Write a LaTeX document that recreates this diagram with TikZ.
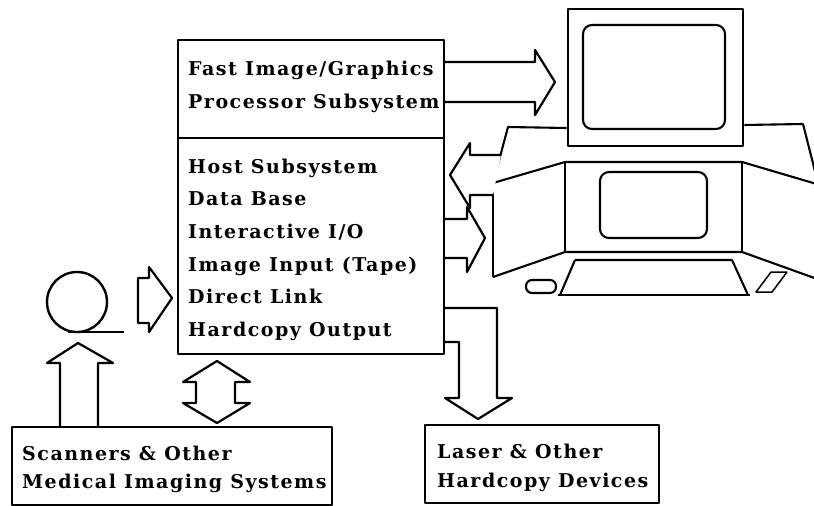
\documentclass[tikz,border=0pt]{standalone}
\usepackage{fontspec}
\newfontfamily\labelfont{DejaVu Serif}[LetterSpace=8]
\begin{document}
\begin{tikzpicture}[x=1pt,y=-1pt,
    line join=round,
    outline/.style={draw=black, line width=2.2pt},
    box/.style={outline, rectangle, inner sep=0pt},
    lbl/.style={inner sep=0pt, anchor=base west, font=\labelfont\bfseries\fontsize{19}{22}\selectfont},
    hollow/.style={outline, fill=white},
    sketch/.style={draw=black, line width=2.1pt},
    thick sketch/.style={draw=black, line width=2.8pt}]
  \useasboundingbox (0,0) rectangle (814,506);
  \clip (0,0) rectangle (814,506);

  % --- boxes -------------------------------------------------------------
  \node[box, minimum width=266pt, minimum height=314pt] (host) at (311,197) {};
  \draw[outline] (host.west |- 0,138) -- (host.east |- 0,138);
  \node[box, minimum width=320pt, minimum height=78pt] (scan) at (172,466) {};
  \node[box, minimum width=234pt, minimum height=78pt] (laser) at (542,464) {};

  % --- texts -------------------------------------------------------------
  \node[lbl] (fast)  at (188,75)  {Fast Image/Graphics};
  \node[lbl] (proc)  at (188,108) {Processor Subsystem};
  \node[lbl] (hs)    at (188,173) {Host Subsystem};
  \node[lbl] (db)    at (188,205) {Data Base};
  \node[lbl] (io)    at (188,238) {Interactive I/O};
  \node[lbl] (tape)  at (188,271) {Image Input (Tape)};
  \node[lbl] (link)  at (188,303) {Direct Link};
  \node[lbl] (hco)   at (188,336) {Hardcopy Output};
  \node[lbl] (sc1)   at (22,460)  {Scanners \& Other};
  \node[lbl] (sc2)   at (22,488)  {Medical Imaging Systems};
  \node[lbl] (ls1)   at (437,458) {Laser \& Other};
  \node[lbl] (ls2)   at (437,487) {Hardcopy Devices};

  % --- workstation -------------------------------------------------------
  % monitor
  \node[box, line width=2.6pt, minimum width=175pt, minimum height=137pt] (monitor) at (655.5,77.5) {};
  \draw[sketch, rounded corners=9pt] (583,25) rectangle (725,129);
  % console top surface
  \draw[sketch] (monitor.west |- 0,128) -- (508,127) -- (493,183);
  \draw[sketch] (monitor.east |- 0,125) -- (803,124) -- (818,183);
  % front panels
  \draw[sketch] (493,183) -- (565,162) -- (742,162) -- (820,185);
  \draw[sketch] (493,277) -- (565,252) -- (742,252) -- (820,280);
  \draw[sketch] (493,183) -- (493,277);
  \draw[sketch] (565,162) -- (565,252);
  \draw[sketch] (742,162) -- (742,252);
  \draw[sketch, rounded corners=9pt] (600,172) rectangle (707,238);
  % keyboard, puck and tablet
  \draw[sketch] (575,260) -- (732,260) -- (748,295);
  \draw[sketch] (560,295) -- (575,260);
  \draw[thick sketch] (558,295) -- (750,295);
  \draw[sketch, rounded corners=6pt] (526,280) rectangle (556,293);
  \draw[sketch, line width=1.5pt] (771,272) -- (787,272) -- (772,292) -- (756,292) -- cycle;

  % --- tape reel ---------------------------------------------------------
  \draw[sketch, line width=2.4pt] (77,302) circle (30);
  \draw[sketch, line width=2.4pt] (68,332) -- (124,332);

  % --- hollow arrows -----------------------------------------------------
  % processor -> monitor
  \draw[hollow] (host.east |- 0,62) -- (535,62) -- (535,50) -- (555,82)
      -- (535,115) -- (535,102) -- (host.east |- 0,102);
  % console -> host
  \draw[hollow] (501,155) -- (470,155) -- (470,143) -- (450,175)
      -- (470,208) -- (470,195) -- (493,195);
  % host -> console
  \draw[hollow] (host.east |- 0,219) -- (467,219) -- (467,207) -- (485,238)
      -- (467,272) -- (467,258) -- (host.east |- 0,258);
  % tape -> host
  \draw[hollow] (138,278) -- (149,278) -- (149,267) -- (172,298)
      -- (149,332) -- (149,323) -- (138,323) -- cycle;
  % scanners -> tape
  \draw[hollow] (60,0 |- scan.north) -- (60,363) -- (47,363) -- (78,343)
      -- (113,363) -- (98,363) -- (98,0 |- scan.north);
  % host <-> scanners
  \draw[hollow] (196,382) -- (183,382) -- (217,361) -- (250,382) -- (235,382)
      -- (235,403) -- (250,403) -- (217,423) -- (183,403) -- (196,403) -- cycle;
  % host -> laser printer
  \draw[hollow] (host.east |- 0,308) -- (497,308) -- (497,398) -- (512,398)
      -- (478,419) -- (445,398) -- (459,398) -- (459,342) -- (host.east |- 0,342);
\end{tikzpicture}
\end{document}
